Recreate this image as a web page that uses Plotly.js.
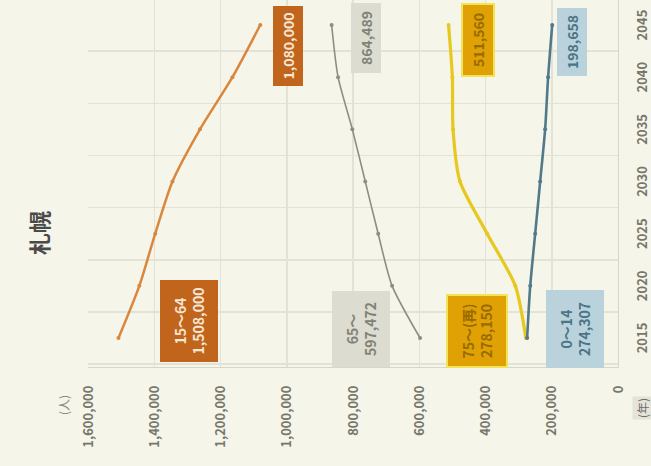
<!DOCTYPE html>
<html>
<head>
<meta charset="utf-8">
<script src="https://cdn.plot.ly/plotly-3.0.1.min.js"></script>
<style>
  html, body { margin:0; padding:0; background:#f5f5e9; overflow:hidden; }
  #wrap { position:absolute; left:0; top:0; width:466px; height:651px;
          transform-origin:0 0; transform:translate(0px,466px) rotate(-90deg); }
</style>
</head>
<body>
<div id="wrap"><div id="chart"></div></div>
<script>
// ---- data ----
const years     = ['2015','2020','2025','2030','2035','2040','2045'];
const age0_14   = [274307, 265000, 250000, 235000, 220000, 211000, 198658];
const age15_64  = [1508000, 1445000, 1397000, 1345000, 1262000, 1164000, 1080000];
const age65     = [597472, 682000, 724000, 763000, 802000, 845000, 864489];
const age75     = [278150, 310000, 395000, 477000, 498000, 500000, 511560];
const valueTicks = [0, 200000, 400000, 600000, 800000, 1000000, 1200000, 1400000, 1600000];
const seriesNames = ['0～14', '15～64', '65～', '75～(再)'];

const FONT = '"Noto Sans CJK JP", "Noto Sans", sans-serif';
const fmt = v => v.toLocaleString('en-US');

function tr(y, color, width, name) {
  return { x: years, y: y, name: name, type: 'scatter', mode: 'lines+markers',
           line: { color: color, width: width, shape: 'spline', smoothing: 0.7 },
           marker: { color: color, size: 4 }, hoverinfo: 'skip' };
}
const traces = [
  tr(age15_64, '#d9873e', 2.5, seriesNames[1]),
  tr(age65,    '#8d8d84', 1.6, seriesNames[2]),
  tr(age75,    '#e6c81e', 3.2, seriesNames[3]),
  tr(age0_14,  '#52798a', 2.6, seriesNames[0])
];

// category axis: annotation x given as the category's serial index
function box(xi, y, text, xs, ys, w, h, bg, fg, border) {
  return { x: xi, y: y, xref: 'x', yref: 'y', text: text, showarrow: false,
           xshift: xs, yshift: ys, width: w, height: h, align: 'center', valign: 'middle',
           bgcolor: bg, bordercolor: border || bg, borderwidth: border ? 2 : 0,
           font: { family: FONT, size: 14, color: fg, weight: 'bold' } };
}
const last = years.length - 1;
const annotations = [
  box(0, age15_64[0], seriesNames[1] + '<br>' + fmt(age15_64[0]), 17, -71, 80, 56, '#c1651c', '#f6e6d4'),
  box(last, age15_64[last], fmt(age15_64[last]), -21, -28, 78, 28, '#c1651c', '#f6e6d4'),
  box(0, age65[0], seriesNames[2] + '<br>' + fmt(age65[0]), 9, 59, 74, 56, '#dcdcd1', '#808276'),
  box(last, age65[last], fmt(age65[last]), -13, -34, 68, 28, '#dcdcd1', '#808276'),
  box(0, age75[0], seriesNames[3] + '<br>' + fmt(age75[0]), 7, 49, 68, 56, '#dfa104', '#996a00', '#f2e35a'),
  box(last, age75[last], fmt(age75[last]), -15, -29, 68, 28, '#dfa104', '#996a00', '#f2e35a'),
  box(0, age0_14[0], seriesNames[0] + '<br>' + fmt(age0_14[0]), 9, -48, 76, 56, '#bad2dc', '#4b7586'),
  box(last, age0_14[last], fmt(age0_14[last]), -17, -20, 66, 28, '#bad2dc', '#4b7586'),
  { text: '(人)', xref: 'paper', yref: 'paper', x: -0.1035, y: 1.047, showarrow: false,
    xanchor: 'center', yanchor: 'middle', font: { family: FONT, size: 12, color: '#8a8a80' } },
  { text: '(年)', xref: 'paper', yref: 'paper', x: -0.112, y: -0.047, showarrow: false,
    xanchor: 'center', yanchor: 'middle', bgcolor: '#e4e4da',
    font: { family: FONT, size: 12, color: '#6f6f66' } }
];

const layout = {
  width: 466, height: 651,
  margin: { l: 99, r: 0, t: 88, b: 33 },
  paper_bgcolor: '#f5f5e9', plot_bgcolor: '#f5f5e9',
  showlegend: false,
  title: { text: '札幌', font: { family: FONT, size: 22, color: '#4a4a4a', weight: 'bold' },
           x: 0.5, xref: 'container', xanchor: 'center', y: 1 - 40/651, yref: 'container', yanchor: 'middle' },
  xaxis: { type: 'category', range: [-0.556, 6.48], tickson: 'boundaries', ticks: '',
           showgrid: true, gridcolor: '#e2e2d6', gridwidth: 1.5, showline: true, linecolor: '#d6d6ca',
           zeroline: false, ticklabelstandoff: 12,
           tickfont: { family: FONT, size: 13, color: '#77776c', weight: 'bold' } },
  yaxis: { range: [0, 1600000], tickvals: valueTicks, tickformat: ',d', ticks: '',
           showgrid: true, gridcolor: '#e2e2d6', gridwidth: 1.5, showline: true, linecolor: '#d6d6ca',
           zeroline: false, ticklabelstandoff: 15,
           tickfont: { family: FONT, size: 13, color: '#77776c', weight: 'bold' } },
  annotations: annotations
};

Plotly.newPlot('chart', traces, layout, { displayModeBar: false, staticPlot: true });
</script>
</body>
</html>
